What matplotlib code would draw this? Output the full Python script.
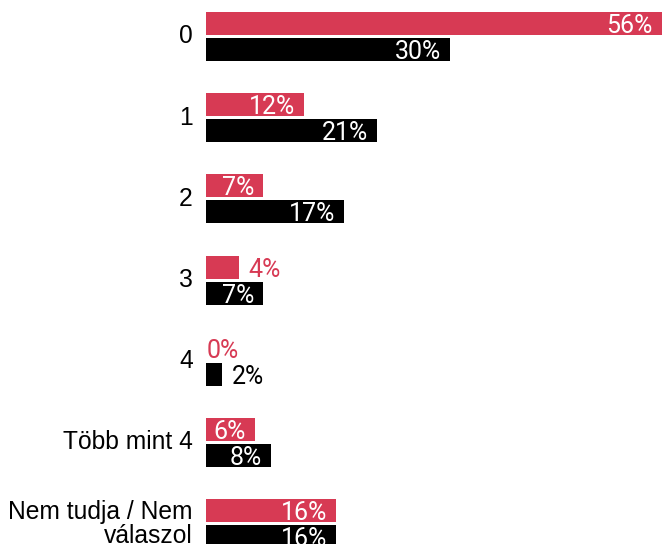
import numpy as np
import matplotlib.pyplot as plt
import matplotlib.transforms as mtransforms

categories = ["0", "1", "2", "3", "4", "Több mint 4", "Nem tudja / Nem\nválaszol"]
red_values = [56, 12, 7, 4, 0, 6, 16]
black_values = [30, 21, 17, 7, 2, 8, 16]

RED = "#d73a54"
BLACK = "#000000"

W, H, DPI = 662, 544, 100
fig = plt.figure(figsize=(W / DPI, H / DPI), dpi=DPI)
left = 206 / W
ax = fig.add_axes([left, 0, 1 - left, 1])

y = np.arange(len(categories))
off = 0.16
h = 0.283
ax.barh(y - off, red_values, height=h, color=RED)
ax.barh(y + off, black_values, height=h, color=BLACK)

ax.set_xlim(0, 56)
ax.set_ylim(6.25, -0.4495)
ax.axis("off")

font_val = dict(family=["Roboto", "DejaVu Sans"], fontsize=18)
for vals, color, dy in [(red_values, RED, -off), (black_values, BLACK, off)]:
    for i, v in enumerate(vals):
        if v >= 6:
            tr = ax.transData + mtransforms.ScaledTranslation(-9 / DPI, 0, fig.dpi_scale_trans)
            ax.text(v, i + dy, f"{v}%", color="white", ha="right", va="center_baseline",
                    transform=tr, **font_val)
        else:
            pad = 10 if v > 0 else 1
            tr = ax.transData + mtransforms.ScaledTranslation(pad / DPI, 0, fig.dpi_scale_trans)
            ax.text(v, i + dy, f"{v}%", color=color, ha="left", va="center_baseline",
                    transform=tr, **font_val)

label_tr = ax.transData + mtransforms.ScaledTranslation(-13 / DPI, 0, fig.dpi_scale_trans)
for i, c in enumerate(categories):
    ax.text(0, i, c, ha="right", va="center", multialignment="right",
            fontsize=17.7, family="Liberation Sans", transform=label_tr,
            linespacing=1.0, clip_on=False)

fig.savefig("out.png", dpi=DPI)
